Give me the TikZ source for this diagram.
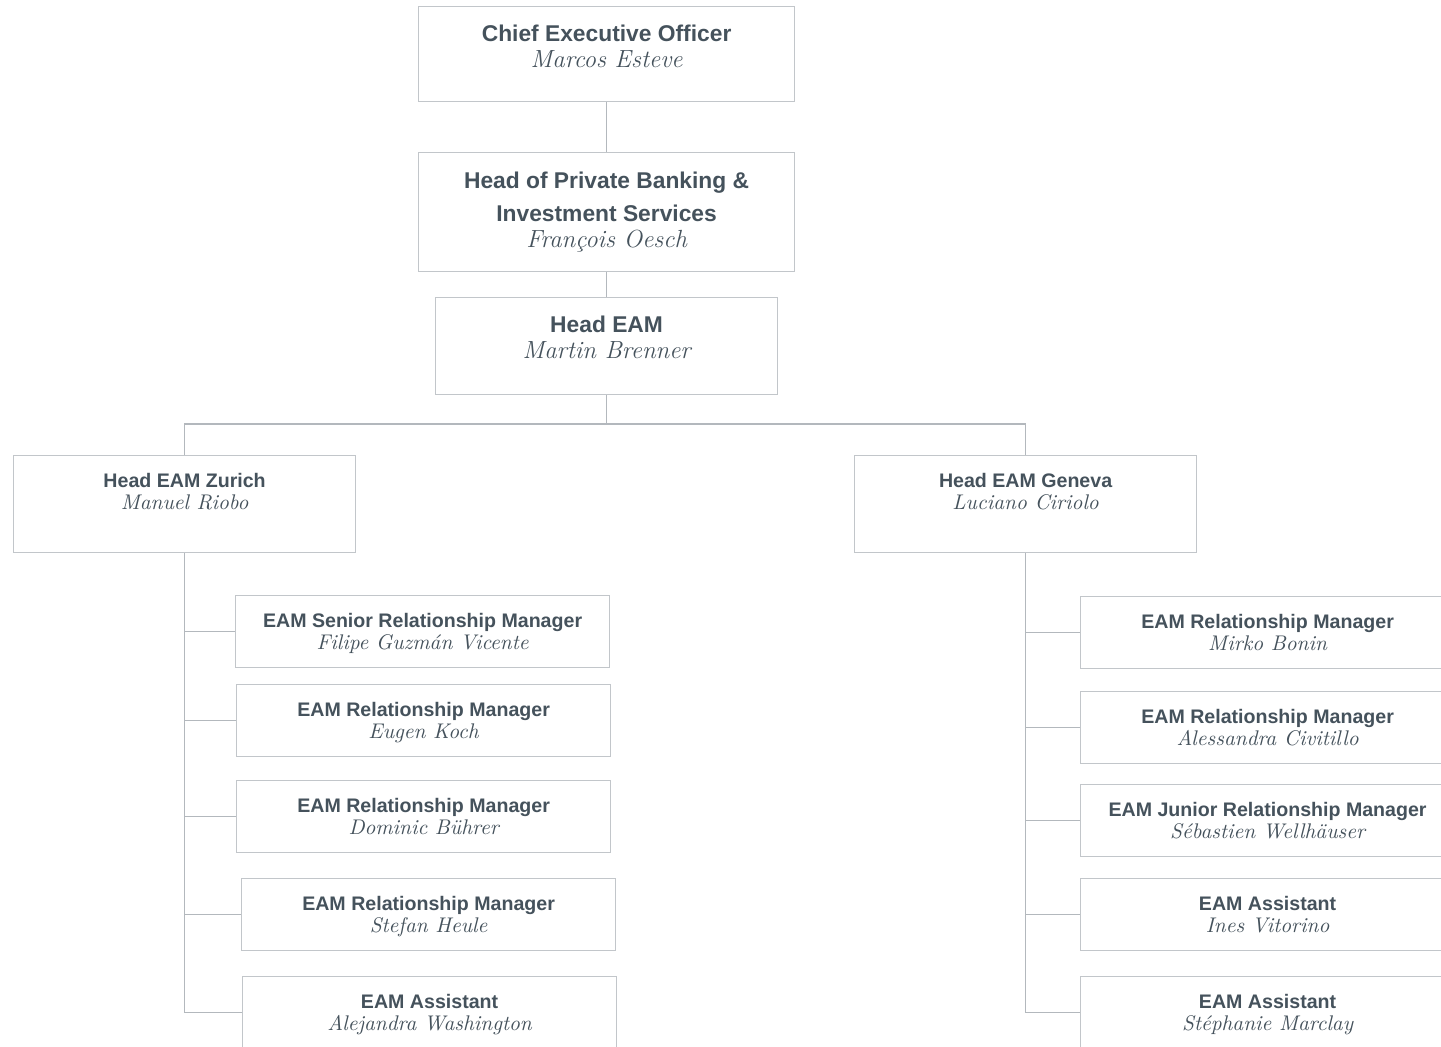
\documentclass[tikz,border=0pt]{standalone}
\usepackage{fontspec}
\newfontfamily\rolefont{Liberation Sans}
\definecolor{inkslate}{HTML}{45525C}
\definecolor{framegray}{HTML}{C2C6CA}
\definecolor{wiregray}{HTML}{B3B8BD}
\newcommand{\bigname}{\rmfamily\mdseries\itshape\fontsize{12.4}{13}\selectfont}
\newcommand{\smallname}{\rmfamily\mdseries\itshape\fontsize{10.6}{10.5}\selectfont}

\begin{document}
\begin{tikzpicture}
[x=0.5pt, y=-0.5pt,
  boxDecorate/.style={draw=framegray, line width=0.6pt, inner sep=0pt, anchor=north west},
  kidDecorate/.style={boxDecorate, minimum width=187pt, minimum height=36pt},
  lineDecorate/.style={draw=wiregray, line width=0.6pt},
  bigText/.style={anchor=north, inner sep=0pt, align=center, text=inkslate,
    font=\fontsize{11.4}{13}\selectfont\rolefont\bfseries},
  smallText/.style={anchor=north, inner sep=0pt, align=center, text=inkslate,
    font=\fontsize{9.8}{10.8}\selectfont\rolefont\bfseries}]
\fill[white] (0,0) rectangle (1441,1046);
\clip (0,0) rectangle (1441,1046);
%% top of the chart
\node (ceo) at (418,6) [boxDecorate, minimum width=188pt, minimum height=47.5pt] {};
\node (ceo-t) at ([yshift=-9.5pt]ceo.north) [bigText]
  {Chief Executive Officer\\{\bigname Marcos Esteve}};
\node (hpb) at (418,152) [boxDecorate, minimum width=188pt, minimum height=59.5pt] {};
\node (hpb-t) at ([yshift=-10pt]hpb.north) [bigText]
  {Head of Private Banking \&\\[3.5pt]Investment Services\\{\bigname François Oesch}};
\node (heam) at (435,297) [boxDecorate, minimum width=171pt, minimum height=48.5pt] {};
\node (heam-t) at ([yshift=-9.5pt]heam.north) [bigText]
  {Head EAM\\{\bigname Martin Brenner}};
%% the two desks
\node (zur) at (13,455) [boxDecorate, minimum width=171pt, minimum height=48.5pt] {};
\node (zur-t) at ([yshift=-9pt]zur.north) [smallText]
  {Head EAM Zurich\\{\smallname Manuel Riobo}};
\node (gva) at (854,455) [boxDecorate, minimum width=171pt, minimum height=48.5pt] {};
\node (gva-t) at ([yshift=-9pt]gva.north) [smallText]
  {Head EAM Geneva\\{\smallname Luciano Ciriolo}};
%% team members
\foreach \nodename/\x/\y/\role/\person in {
  zurA/235/595/EAM Senior Relationship Manager/Filipe Guzmán Vicente,
  zurB/236/684/EAM Relationship Manager/Eugen Koch,
  zurC/236/780/EAM Relationship Manager/Dominic Bührer,
  zurD/241/878/EAM Relationship Manager/Stefan Heule,
  zurE/242/976/EAM Assistant/Alejandra Washington,
  gvaA/1080/596/EAM Relationship Manager/Mirko Bonin,
  gvaB/1080/691/EAM Relationship Manager/Alessandra Civitillo,
  gvaC/1080/784/EAM Junior Relationship Manager/Sébastien Wellhäuser,
  gvaD/1080/878/EAM Assistant/Ines Vitorino,
  gvaE/1080/976/EAM Assistant/Stéphanie Marclay}
{
  \node (\nodename) at (\x,\y) [kidDecorate] {};
  \node (\nodename-t) at ([yshift=-9pt]\nodename.north) [smallText]
    {\role\\{\smallname \person}};
}
%% lines
\coordinate (split) at (heam.south |- 0,424);
\path
  (ceo) edge[lineDecorate] (hpb)
  (hpb) edge[lineDecorate] (heam)
  (heam) edge[lineDecorate] (split);
\draw[lineDecorate] (zur.north) |- (split) -| (gva.north);
\foreach \kidname in {zurA, zurB, zurC, zurD, zurE}
{
  \draw[lineDecorate] (zur.south) |- (\kidname.west);
}
\foreach \kidname in {gvaA, gvaB, gvaC, gvaD, gvaE}
{
  \draw[lineDecorate] (gva.south) |- (\kidname.west);
}
\end{tikzpicture}
\end{document}
